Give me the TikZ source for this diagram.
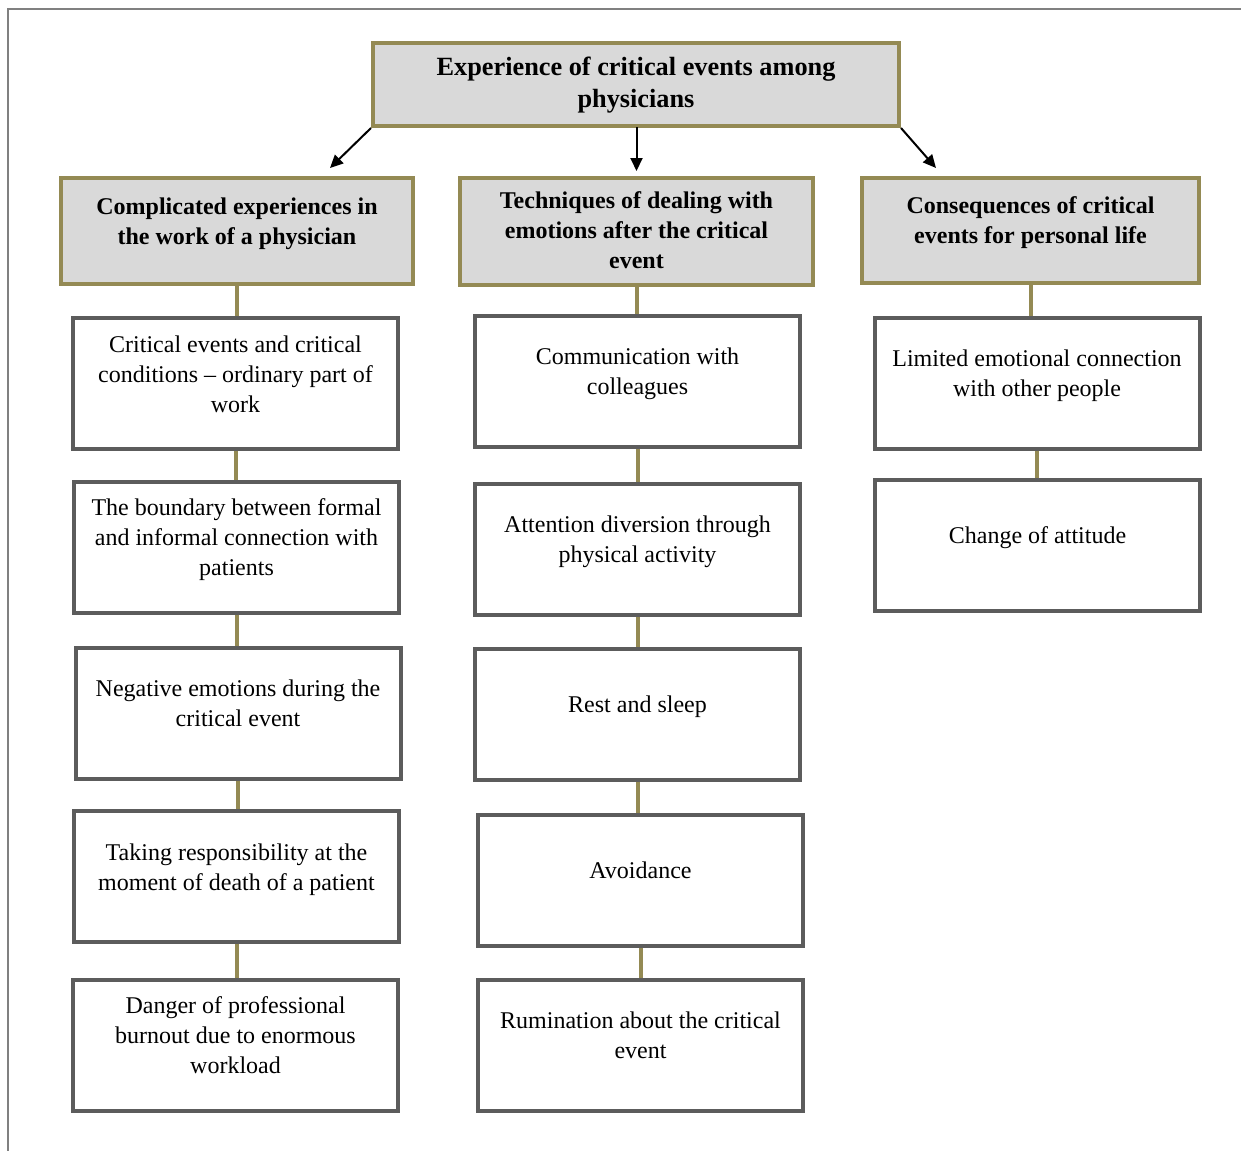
\documentclass[tikz,border=0pt]{standalone}
\usepackage{fontspec}
\setmainfont{Liberation Serif}
\usetikzlibrary{arrows.meta}
\definecolor{olivebox}{HTML}{948A54}
\definecolor{greyfill}{HTML}{D9D9D9}
\definecolor{greyline}{HTML}{5C5C5C}

\begin{document}
\begin{tikzpicture}[x=1pt,y=-1pt,
    every node/.style={align=center,inner sep=0pt,font=\fontsize{24}{30}\selectfont},
    topbox/.style={draw=olivebox,fill=greyfill,line width=4pt,minimum width=526pt,minimum height=83pt,
      text depth=4pt,font=\fontsize{26.3}{32}\selectfont\bfseries},
    headbox/.style={draw=olivebox,fill=greyfill,line width=4pt,minimum height=106pt,text depth=20pt,
      font=\fontsize{24}{30}\selectfont\bfseries},
    itembox/.style={draw=greyline,line width=4pt,minimum width=325pt,minimum height=131pt,text depth=19pt},
    link/.style={draw=olivebox,line width=4pt},
    arr/.style={-{Triangle[length=13pt,width=12pt]},line width=2pt}]
  \useasboundingbox (0,0) rectangle (1241,1151);
  % the frame
  \draw[gray,line width=1.2pt] (1241,9) -- (8,9) -- (8,1151);

  %%%% top
  \node[topbox] (top) at (636,84.5) {Experience of critical events among\\physicians};

  %%%% the three headers
  \node[headbox,minimum width=352pt] (h1) at (237,231) {Complicated experiences in\\the work of a physician};
  \node[headbox,minimum width=353pt,minimum height=107pt,text depth=2pt] (h2) at (636.5,231.5)
    {Techniques of dealing with\\emotions after the critical\\event};
  \node[headbox,minimum width=337pt,minimum height=105pt] (h3) at (1030.5,230.5)
    {Consequences of critical\\events for personal life};

  %% arrows from the top
  \draw[arr] (top.south west) -- ([xshift=93pt,yshift=8pt]h1.north);
  \draw[arr,shorten >=5pt] (top.south) -- (top.south -| h2.north) -- (h2.north);
  \draw[arr] (top.south east) -- ([xshift=76pt,yshift=8pt]h3.north west);

  %%%% column 1
  \node[itembox] (l1) at (235.5,383.5) {Critical events and critical\\conditions -- ordinary part of\\work};
  \node[itembox] (l2) at (236.5,547) {The boundary between formal\\and informal connection with\\patients};
  \node[itembox] (l3) at (238,713) {Negative emotions during the\\critical event};
  \node[itembox] (l4) at (236.5,876.5) {Taking responsibility at the\\moment of death of a patient};
  \node[itembox] (l5) at (235.5,1045) {Danger of professional\\burnout due to enormous\\workload};

  %%%% column 2
  \node[itembox] (m1) at (637.5,381) {Communication with\\colleagues};
  \node[itembox] (m2) at (637.5,549) {Attention diversion through\\physical activity};
  \node[itembox] (m3) at (637.5,714) {Rest and sleep};
  \node[itembox] (m4) at (640.5,880) {Avoidance};
  \node[itembox] (m5) at (640.5,1045) {Rumination about the critical\\event};

  %%%% column 3
  \node[itembox] (r1) at (1037,383) {Limited emotional connection\\with other people};
  \node[itembox] (r2) at (1037.5,545) {Change of attitude};

  %% the olive links
  \foreach \a/\b in {h1/l1,l1/l2,l2/l3,l3/l4,l4/l5,h2/m1,m1/m2,m2/m3,m3/m4,m4/m5,h3/r1,r1/r2}
  {
    \draw[link] (\a.south) -- (\a.south |- \b.north);
  }
\end{tikzpicture}
\end{document}
